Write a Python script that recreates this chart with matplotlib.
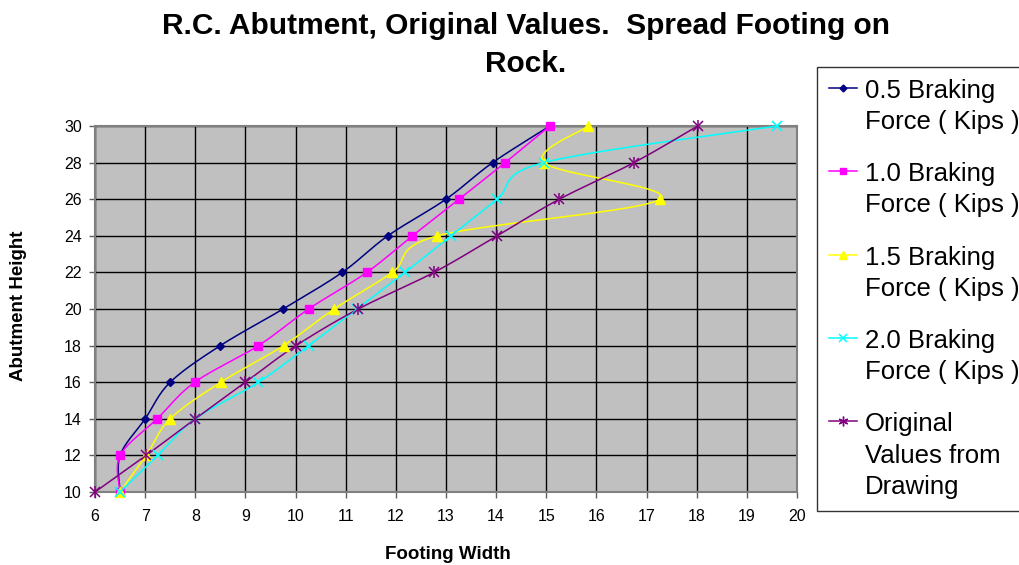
import numpy as np
import matplotlib.pyplot as plt
from matplotlib.lines import Line2D

plt.rcParams['font.family'] = ['Liberation Sans', 'DejaVu Sans']

# Data
heights = [10, 12, 14, 16, 18, 20, 22, 24, 26, 28, 30]
width_05 = [6.5, 6.5, 7.0, 7.5, 8.5, 9.75, 10.93, 11.84, 13.0, 13.93, 15.07]
width_10 = [6.5, 6.5, 7.24, 7.99, 9.26, 10.26, 11.42, 12.33, 13.26, 14.18, 15.07]
width_15 = [6.5, 7.02, 7.5, 8.51, 9.76, 10.77, 11.93, 12.83, 17.27, 14.95, 15.84]
width_20 = [6.5, 7.25, 8.0, 9.26, 10.26, 11.22, 12.18, 13.1, 14.02, 14.95, 19.6]
width_orig = [6.0, 7.02, 8.0, 9.0, 10.01, 11.25, 12.76, 14.02, 15.26, 16.75, 18.02]

labels = ['0.5 Braking\nForce ( Kips )', '1.0 Braking\nForce ( Kips )',
          '1.5 Braking\nForce ( Kips )', '2.0 Braking\nForce ( Kips )',
          'Original\nValues from\nDrawing']
colors = ['#000080', '#FF00FF', '#FFFF00', '#00FFFF', '#800080']
markers = ['D', 's', '^', 'x', '*']
msizes = [4.5, 5.5, 6.5, 6.5, 7]


def smooth(xs, ys, n=24):
    # Excel-style smoothed line (uniform Catmull-Rom as Bezier segments)
    p = np.column_stack([xs, ys]).astype(float)
    p = np.vstack([p[0], p, p[-1]])
    out = []
    t = np.linspace(0, 1, n)[:, None]
    for i in range(1, len(p) - 2):
        p0, p1, p2, p3 = p[i - 1], p[i], p[i + 1], p[i + 2]
        c1 = p1 + (p2 - p0) / 6
        c2 = p2 - (p3 - p1) / 6
        seg = ((1 - t) ** 3) * p1 + 3 * ((1 - t) ** 2) * t * c1 + 3 * (1 - t) * t ** 2 * c2 + t ** 3 * p2
        out.append(seg)
    out = np.vstack(out)
    return out[:, 0], out[:, 1]


fig = plt.figure(figsize=(10.19, 5.65), dpi=100)
ax = fig.add_axes([95 / 1019, 1 - 492 / 565, 702 / 1019, 366 / 565])
ax.set_facecolor('#C0C0C0')

series = [width_05, width_10, width_15, width_20, width_orig]
handles = []
for xs, c, m, ms, lab in zip(series, colors, markers, msizes, labels):
    sx, sy = smooth(xs, heights)
    ax.plot(sx, sy, color=c, lw=1.1, zorder=3, clip_on=False)
    if m == '*':
        ax.plot(xs, heights, ls='none', marker='x', ms=ms, mew=1.1, color=c, zorder=4, clip_on=False)
        ax.plot(xs, heights, ls='none', marker='|', ms=ms + 1, mew=1.1, color=c, zorder=4, clip_on=False)
        h = Line2D([], [], color=c, lw=1.1, marker=(6, 2, 0), ms=ms, mew=1.0)
    elif m == 'x':
        ax.plot(xs, heights, ls='none', marker=m, ms=ms, mew=1.2, color=c, zorder=4, clip_on=False)
        h = Line2D([], [], color=c, lw=1.1, marker=m, ms=ms - 1, mew=1.1)
    else:
        ax.plot(xs, heights, ls='none', marker=m, ms=ms, color=c, mec=c, zorder=4, clip_on=False)
        h = Line2D([], [], color=c, lw=1.1, marker=m, ms=ms - 1, mec=c)
    handles.append(h)

ax.set_xlim(6, 20)
ax.set_ylim(10, 30)
ax.set_xticks(range(6, 21))
ax.set_yticks(range(10, 31, 2))
ax.grid(True, color='black', lw=1.0)
ax.set_axisbelow(True)
for s in ax.spines.values():
    s.set_color('#808080')
    s.set_linewidth(1.5)
ax.tick_params(direction='out', length=4, width=1, color='#606060', labelsize=11.5)
ax.tick_params(axis='x', pad=8.5)
ax.tick_params(axis='y', pad=5.5)

ax.set_xlabel('Footing Width', fontsize=13.5, fontweight='bold')
ax.set_ylabel('Abutment Height', fontsize=13.5, fontweight='bold')
ax.xaxis.set_label_coords(0.502, -0.147)
ax.yaxis.set_label_coords(-0.097, 0.508)

fig.text(526 / 1019, 1 - 45 / 565, 'R.C. Abutment, Original Values.  Spread Footing on\nRock.',
         ha='center', va='center', fontsize=21.5, fontweight='bold', linespacing=1.42)

leg = fig.legend(handles, labels, loc='upper left', bbox_to_anchor=(817 / 1019, 1 - 67 / 565),
                 fontsize=18.5, frameon=True, fancybox=False, edgecolor='black',
                 handlelength=1.1, handletextpad=0.3, borderpad=0.45, labelspacing=1.1,
                 borderaxespad=0)
leg.get_frame().set_linewidth(1.0)
for t in leg.get_texts():
    t.set_linespacing(1.38)
# align each handle with the first line of its label
for col in leg._legend_handle_box.get_children():
    for item in col.get_children():
        item.align = 'top'

fig.savefig('out.png', dpi=100)
